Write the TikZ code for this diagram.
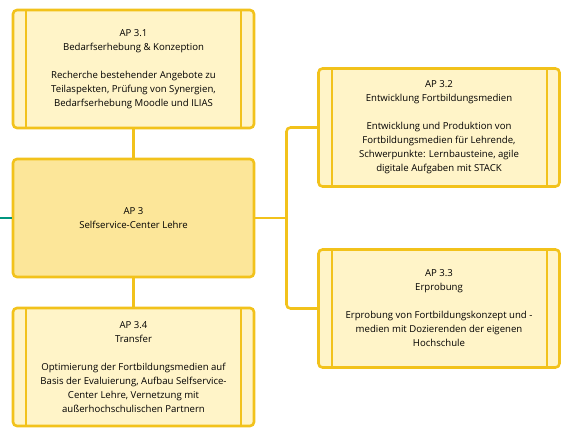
\documentclass[tikz,border=0pt]{standalone}
\usepackage{fontspec}
\setmainfont{Open Sans}
\usetikzlibrary{positioning}
\definecolor{apgold}{HTML}{F2C21B}
\definecolor{apfill}{HTML}{FFF4C8}
\definecolor{apcore}{HTML}{FCE699}
\definecolor{apteal}{HTML}{00967F}
\tikzset{
  apbase/.style={draw=apgold, line width=2.6pt, rounded corners=4pt, minimum width=241pt,
    minimum height=118pt, align=center, inner sep=0pt, font=\fontsize{9.6}{14}\selectfont},
  apbox/.style={apbase, fill=apfill, path picture={
    \draw[apgold, line width=2pt] ([xshift=13pt]path picture bounding box.north west) -- ([xshift=13pt]path picture bounding box.south west);
    \draw[apgold, line width=2pt] ([xshift=-13pt]path picture bounding box.north east) -- ([xshift=-13pt]path picture bounding box.south east);}},
  apmain/.style={apbase, fill=apcore},
  aplink/.style={draw=apgold, line width=2.6pt}
}
\begin{document}
\begin{tikzpicture}[x=1pt, y=-1pt]
\useasboundingbox (0,0) rectangle (576,441);
\node[apbox] (ap31) at (133.5,69) {AP 3.1\\Bedarfserhebung \& Konzeption\\[14pt]Recherche bestehender Angebote zu\\Teilaspekten, Prüfung von Synergien,\\Bedarfserhebung Moodle und ILIAS};
\node[apmain] (ap3) at (133.5,218) {AP 3\\Selfservice-Center Lehre};
\node[apbox] (ap34) at (133.5,367) {AP 3.4\\Transfer\\[14pt]Optimierung der Fortbildungsmedien auf\\Basis der Evaluierung, Aufbau Selfservice-\\Center Lehre, Vernetzung mit\\außerhochschulischen Partnern};
\node[apbox] (ap32) at (439,127.5) {AP 3.2\\Entwicklung Fortbildungsmedien\\[14pt]Entwicklung und Produktion von\\Fortbildungsmedien für Lehrende,\\Schwerpunkte: Lernbausteine, agile\\digitale Aufgaben mit STACK};
\node[apbox] (ap33) at (439,308.5) {AP 3.3\\Erprobung\\[14pt]Erprobung von Fortbildungskonzept und -\\medien mit Dozierenden der eigenen\\Hochschule};
% connectors
\coordinate (fork) at (286.5,218);
\coordinate (entry) at (0,218);
\draw[aplink] (ap31) -- (ap3);
\draw[aplink] (ap3) -- (ap34);
\draw[aplink] (ap3.east) -- (fork);
\draw[aplink, rounded corners=4pt] (ap32.west) -| (fork) |- (ap33.west);
\draw[apteal, line width=2.6pt] (entry) -- (ap3.west);
\end{tikzpicture}
\end{document}
